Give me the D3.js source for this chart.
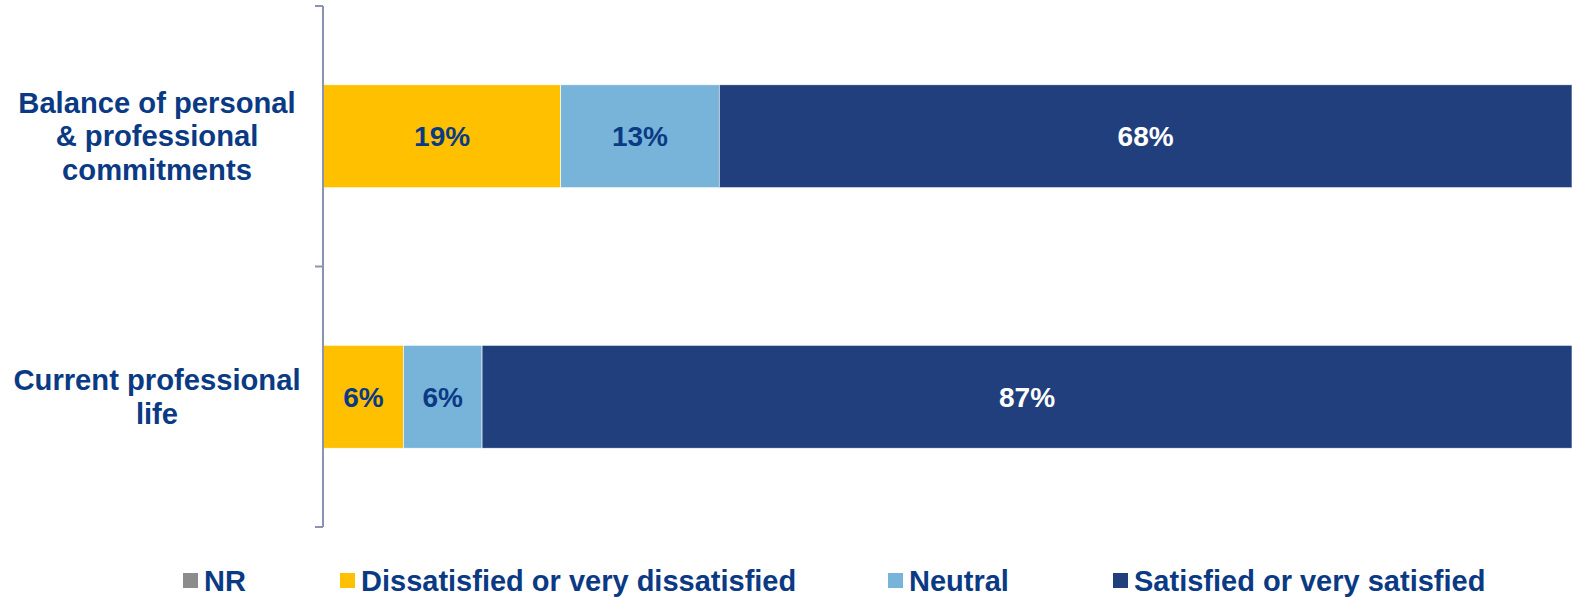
<!DOCTYPE html>
<html>
<head>
<meta charset="utf-8">
<script src="https://cdn.jsdelivr.net/npm/d3@7"></script>
<style>
  html, body { margin: 0; padding: 0; background: #ffffff; }
  svg { display: block; }
  text { font-family: "Liberation Sans", Arial, sans-serif; font-weight: bold; }
</style>
</head>
<body>
<svg id="chart" width="1572" height="597"></svg>
<script>
// Satisfaction survey: share of responses per topic (percent)
const categories = [
  ["Balance of personal", "& professional", "commitments"],
  ["Current professional", "life"]
];
const seriesNames = ["NR", "Dissatisfied or very dissatisfied", "Neutral", "Satisfied or very satisfied"];
const nrValues           = [0, 0];
const dissatisfiedValues = [19.0, 6.4];
const neutralValues      = [12.7, 6.3];
const satisfiedValues    = [68.3, 87.3];

const colors = ["#8c8c8c", "#ffc000", "#78b4d9", "#213f7c"];
const labelColors = ["#ffffff", "#0b3a84", "#0b3a84", "#ffffff"];
const textColor = "#0b3a84";

const svg = d3.select("#chart");
const W = 1572;
const margin = { left: 323.5, right: 0, top: 6, bottom: 70 };
const plotBottom = 527;

const catKeys = categories.map((c, i) => "c" + i);
const rows = catKeys.map((k, i) => ({
  key: k,
  s0: nrValues[i], s1: dissatisfiedValues[i], s2: neutralValues[i], s3: satisfiedValues[i]
}));

const x = d3.scaleLinear().domain([0, 100]).range([margin.left, W - margin.right]);
const y = d3.scaleBand().domain(catKeys).range([margin.top, plotBottom])
  .paddingInner(0.605).paddingOuter(0.3025);

const stack = d3.stack().keys(["s0", "s1", "s2", "s3"]);
const layers = stack(rows);

// stacked segments with their rounded percentage labels
const g = svg.append("g");
layers.forEach((layer, si) => {
  g.selectAll(null).data(layer).join("rect")
    .attr("x", d => x(d[0]))
    .attr("y", d => y(d.data.key))
    .attr("width", d => Math.max(0, x(d[1]) - x(d[0])))
    .attr("height", y.bandwidth())
    .attr("fill", colors[si])
    .attr("stroke", "#ffffff")
    .attr("stroke-width", 0.6);

  g.selectAll(null).data(layer.filter(d => d[1] - d[0] > 0)).join("text")
    .attr("x", d => (x(d[0]) + x(d[1])) / 2)
    .attr("y", d => y(d.data.key) + y.bandwidth() / 2)
    .attr("dy", "0.35em")
    .attr("text-anchor", "middle")
    .attr("font-size", 28)
    .attr("fill", labelColors[si])
    .text(d => Math.round(d[1] - d[0]) + "%");
});

// category axis: vertical line with ticks at band boundaries
const axisColor = "#8a94b0";
const axisX = margin.left - 0.5;
const ax = svg.append("g");
ax.append("line")
  .attr("x1", axisX).attr("x2", axisX)
  .attr("y1", margin.top).attr("y2", plotBottom)
  .attr("stroke", axisColor).attr("stroke-width", 2);
const boundaries = [y.range()[0], ...catKeys.slice(1).map(k => y(k) - y.step() * y.paddingInner() / 2), y.range()[1]];
ax.selectAll(null).data(boundaries).join("line")
  .attr("x1", axisX - 8).attr("x2", axisX)
  .attr("y1", d => d).attr("y2", d => d)
  .attr("stroke", axisColor).attr("stroke-width", 2);

// category labels, centred in the left column
const lineH = 33.5;
categories.forEach((lines, i) => {
  const cy = y(catKeys[i]) + y.bandwidth() / 2;
  const t = svg.append("text")
    .attr("text-anchor", "middle")
    .attr("font-size", 29.2)
    .attr("fill", textColor);
  lines.forEach((ln, j) => {
    t.append("tspan")
      .attr("x", 157)
      .attr("y", cy + (j - (lines.length - 1) / 2) * lineH)
      .attr("dy", "0.35em")
      .text(ln);
  });
});

// legend
const legendX = [183, 340, 888, 1113];
const legendY = 573;
const lg = svg.append("g");
seriesNames.forEach((name, i) => {
  lg.append("rect")
    .attr("x", legendX[i]).attr("y", legendY)
    .attr("width", 15).attr("height", 15)
    .attr("fill", colors[i]);
  lg.append("text")
    .attr("x", legendX[i] + 21)
    .attr("y", legendY + 7.5)
    .attr("dy", "0.36em")
    .attr("font-size", 29)
    .attr("fill", textColor)
    .text(name);
});
</script>
</body>
</html>
